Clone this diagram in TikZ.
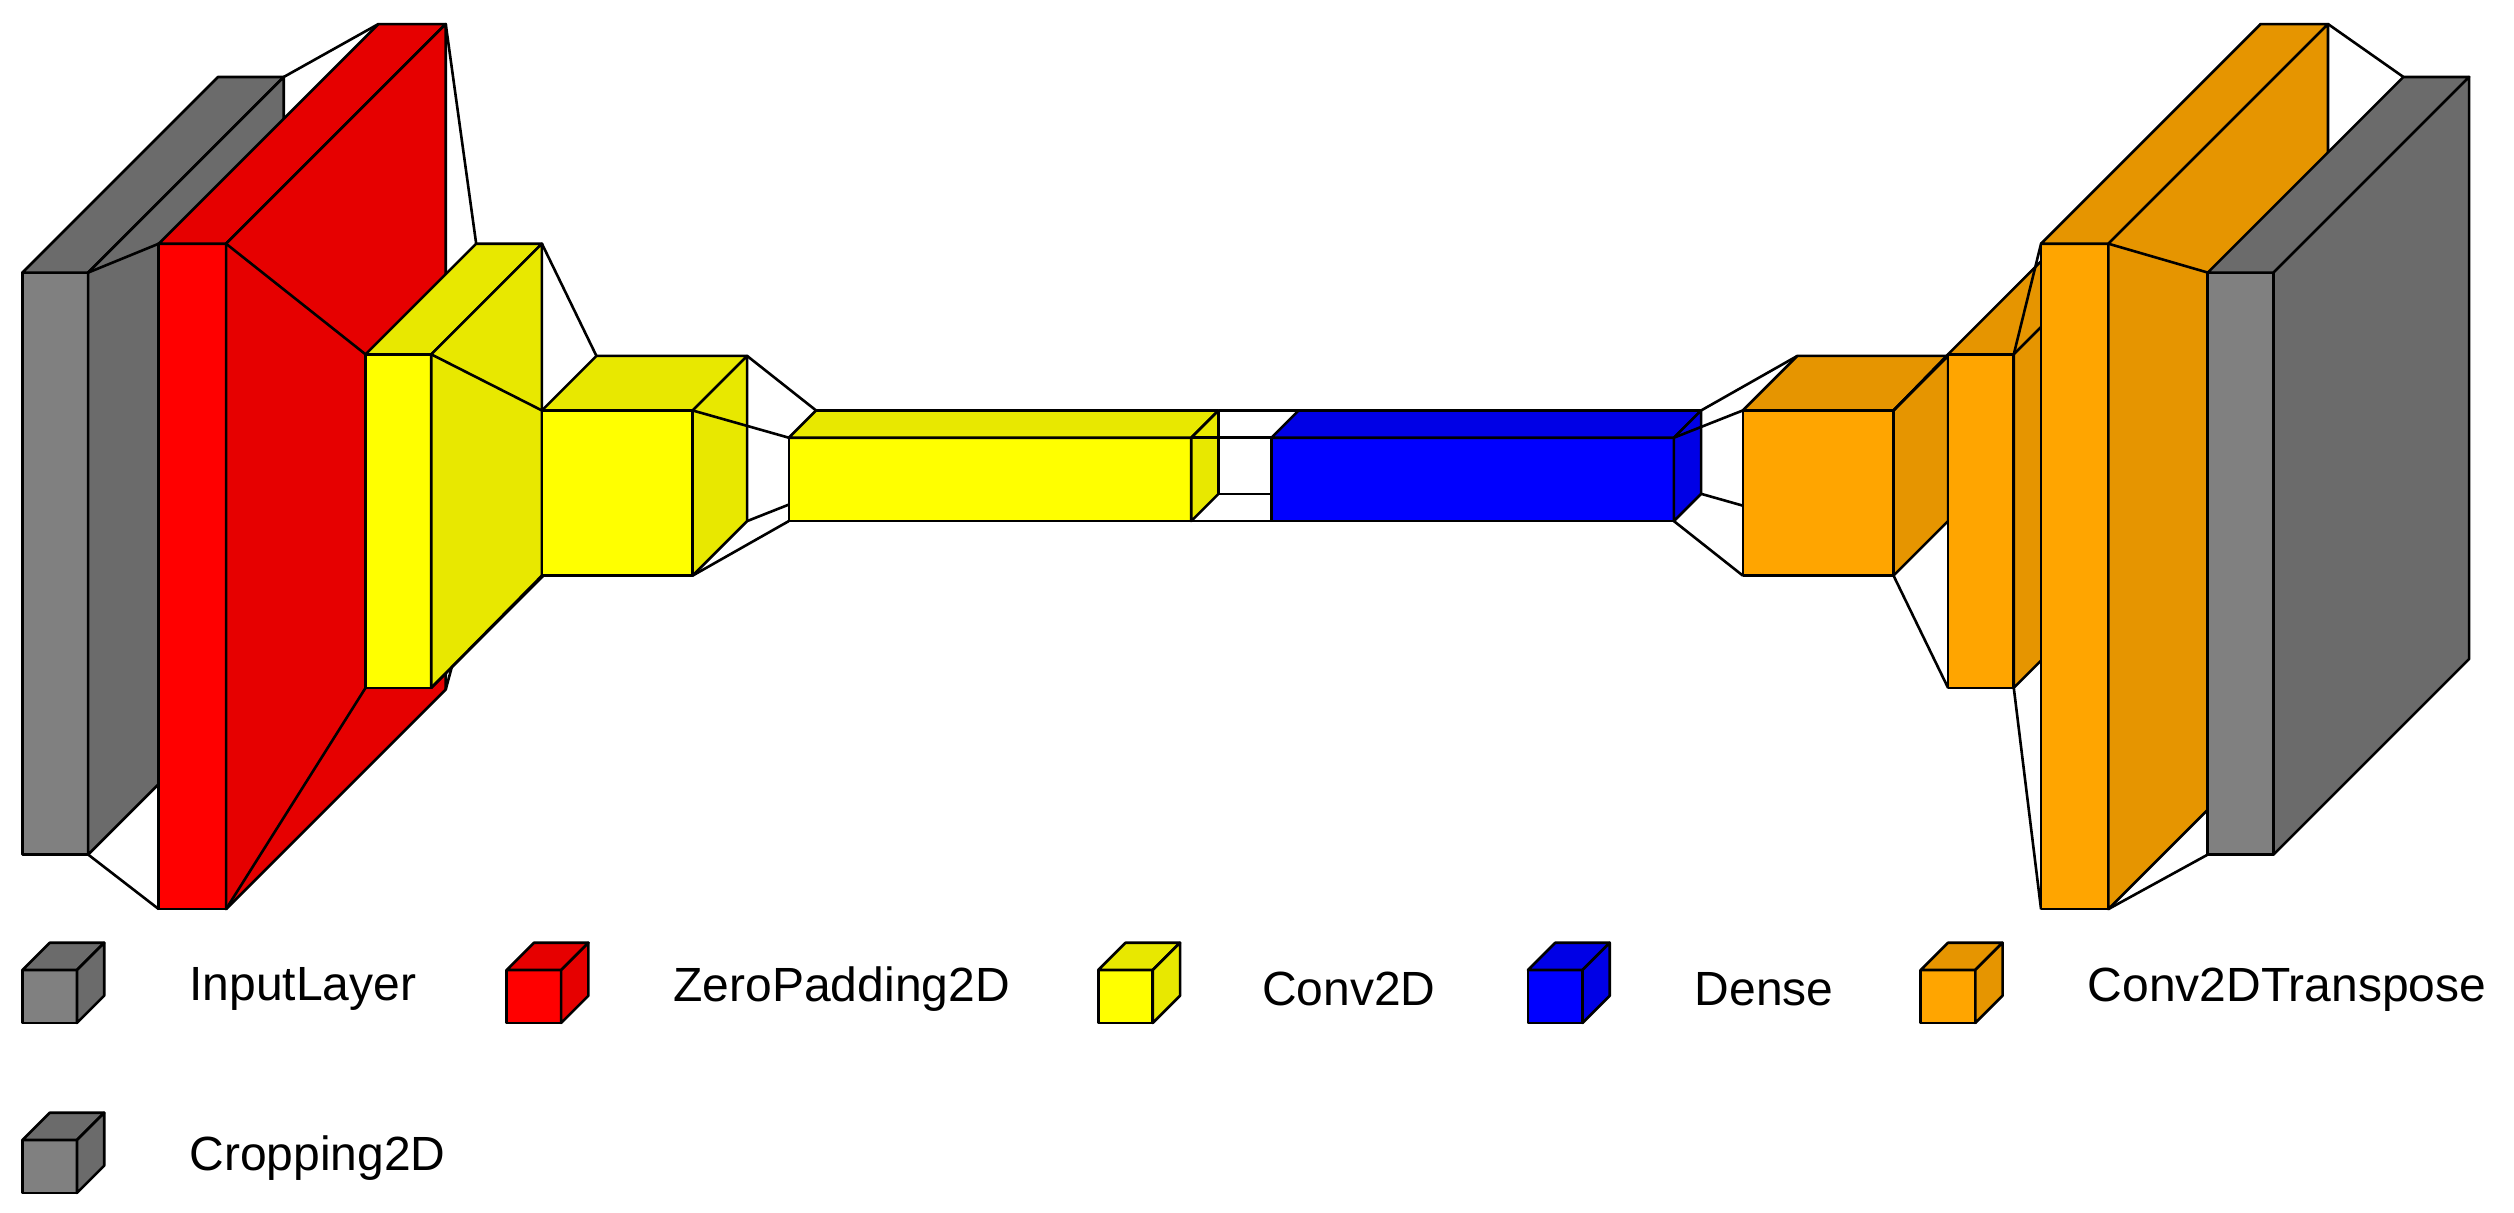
\documentclass[tikz,border=0pt]{standalone}
\usepackage{fontspec}
\setmainfont{Liberation Sans}
\definecolor{gF}{HTML}{808080}\definecolor{gS}{HTML}{6B6B6B}
\definecolor{rF}{HTML}{FF0000}\definecolor{rS}{HTML}{E60000}
\definecolor{yF}{HTML}{FFFF00}\definecolor{yS}{HTML}{E8E800}
\definecolor{bF}{HTML}{0000FF}\definecolor{bS}{HTML}{0000E6}
\definecolor{oF}{HTML}{FFA500}\definecolor{oS}{HTML}{E69500}
\tikzset{edge/.style={draw=black,line width=2.6pt,line join=round},
 lnk/.style={draw=black,line width=2.6pt},
 lbl/.style={anchor=west,font=\fontsize{48}{56}\selectfont,inner sep=0pt}}
\newcommand{\mycube}[7]{%
 \filldraw[edge,fill=#6] (#1,#2) rectangle (#3,#4);
 \filldraw[edge,fill=#7] (#1,#2) -- ({#1+#5},{#2-#5}) -- ({#3+#5},{#2-#5}) -- (#3,#2) -- cycle;
 \filldraw[edge,fill=#7] (#3,#2) -- ({#3+#5},{#2-#5}) -- ({#3+#5},{#4-#5}) -- (#3,#4) -- cycle;}
\newcommand{\mylinks}[8]{%
 \draw[lnk] (#1,#2) -- (#5,#6);
 \draw[lnk] (#1,#3) -- (#5,#7);
 \draw[lnk] ({#1+#4},{#2-#4}) -- ({#5+#8},{#6-#8});
 \draw[lnk] ({#1+#4},{#3-#4}) -- ({#5+#8},{#7-#8});}
\begin{document}
\begin{tikzpicture}[x=1.6033pt,y=-1.6033pt]
\useasboundingbox[fill=white] (0,0) rectangle (1568,756);
\mycube{14}{170}{55}{533}{122}{gF}{gS}
\mylinks{55}{170}{533}{122}{99}{152}{567}{137}
\mycube{99}{152}{141}{567}{137}{rF}{rS}
\mylinks{141}{152}{567}{137}{228}{221}{429}{69}
\mycube{228}{221}{269}{429}{69}{yF}{yS}
\mylinks{269}{221}{429}{69}{338}{256}{359}{34}
\mycube{338}{256}{432}{359}{34}{yF}{yS}
\mylinks{432}{256}{359}{34}{492}{273}{325}{17}
\mycube{492}{273}{743}{325}{17}{yF}{yS}
\mylinks{743}{273}{325}{17}{793}{273}{325}{17}
\mycube{793}{273}{1044}{325}{17}{bF}{bS}
\mylinks{1044}{273}{325}{17}{1087}{256}{359}{34}
\mycube{1087}{256}{1181}{359}{34}{oF}{oS}
\mylinks{1181}{256}{359}{34}{1215}{221}{429}{69}
\mycube{1215}{221}{1256}{429}{69}{oF}{oS}
\mylinks{1256}{221}{429}{69}{1273}{152}{567}{137}
\mycube{1273}{152}{1315}{567}{137}{oF}{oS}
\mylinks{1315}{152}{567}{137}{1377}{170}{533}{122}
\mycube{1377}{170}{1418}{533}{122}{gF}{gS}
\mycube{14}{605}{48}{638}{17}{gF}{gS}
\node[lbl] (l1) at (118,617) {InputLayer};
\mycube{316}{605}{350}{638}{17}{rF}{rS}
\node[lbl] (l2) at (420,617) {ZeroPadding2D};
\mycube{685}{605}{719}{638}{17}{yF}{yS}
\node[lbl] (l3) at (787,617) {Conv2D};
\mycube{953}{605}{987}{638}{17}{bF}{bS}
\node[lbl] (l4) at (1057,617) {Dense};
\mycube{1198}{605}{1232}{638}{17}{oF}{oS}
\node[lbl] (l5) at (1302,617) {Conv2DTranspose};
\mycube{14}{711}{48}{744}{17}{gF}{gS}
\node[lbl] (l6) at (118,722) {Cropping2D};
\end{tikzpicture}
\end{document}
